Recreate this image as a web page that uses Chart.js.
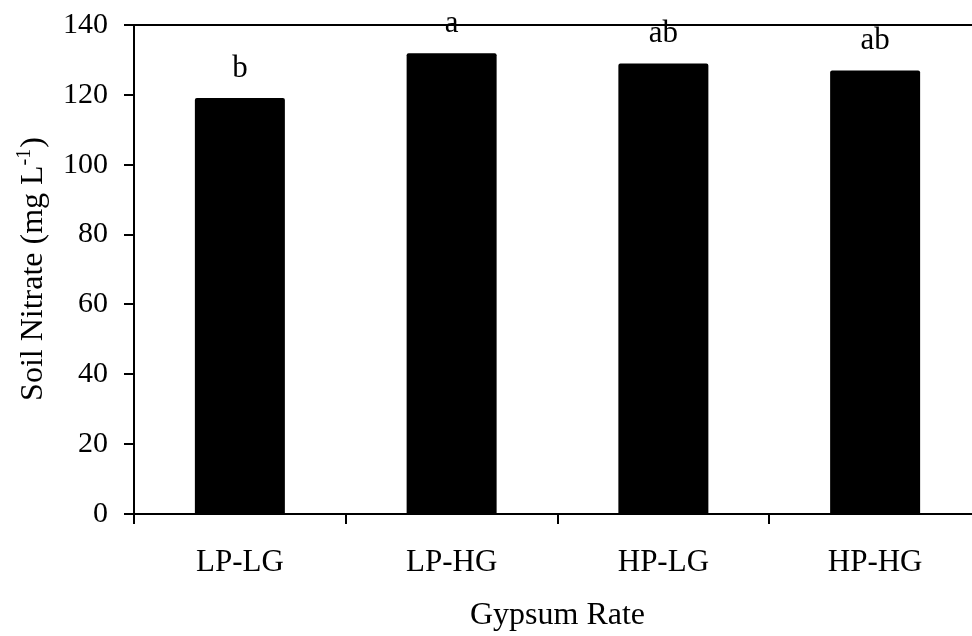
<!DOCTYPE html>
<html>
<head>
<meta charset="utf-8">
<script src="https://cdn.jsdelivr.net/npm/chart.js@4/dist/chart.umd.min.js"></script>
<style>
  html, body { margin: 0; padding: 0; background: #fff; overflow: hidden; }
  #wrap { width: 972px; height: 636px; overflow: hidden; }
</style>
</head>
<body>
<div id="wrap">
  <canvas id="nitrateChart" width="985" height="636"></canvas>
</div>
<script>
const categories = ['LP-LG', 'LP-HG', 'HP-LG', 'HP-HG'];
const soilNitrate = [119.1, 131.9, 129.0, 127.0];
const groupLetters = ['b', 'a', 'ab', 'ab'];
const yMin = 0;
const yMax = 140;
const yStep = 20;

const serif = "'Liberation Serif', 'Times New Roman', serif";

// letters over each bar + the top frame line
const extras = {
  id: 'extras',
  afterDatasetsDraw(chart) {
    const ctx = chart.ctx;
    const meta = chart.getDatasetMeta(0);
    ctx.save();
    ctx.fillStyle = '#000';
    ctx.font = '31px ' + serif;
    ctx.textAlign = 'center';
    ctx.textBaseline = 'alphabetic';
    meta.data.forEach((bar, i) => {
      ctx.fillText(groupLetters[i], bar.x, bar.y - 21);
    });
    ctx.restore();
  },
  afterDraw(chart) {
    const ctx = chart.ctx;
    const area = chart.chartArea;
    ctx.save();
    ctx.strokeStyle = '#000';
    ctx.lineWidth = 2;
    ctx.beginPath();
    ctx.moveTo(area.left - 1, area.top);
    ctx.lineTo(area.right, area.top);
    ctx.stroke();

    // y axis title with superscript
    const cy = (area.top + area.bottom) / 2;
    ctx.translate(42, cy);
    ctx.rotate(-Math.PI / 2);
    ctx.fillStyle = '#000';
    ctx.textBaseline = 'alphabetic';
    ctx.textAlign = 'left';
    const main = 'Soil Nitrate (mg L';
    const sup = '-1';
    const close = ')';
    ctx.font = '32px ' + serif;
    const w1 = ctx.measureText(main).width;
    const w3 = ctx.measureText(close).width;
    ctx.font = '20px ' + serif;
    const w2 = ctx.measureText(sup).width;
    let x = -(w1 + w2 + w3) / 2;
    ctx.font = '32px ' + serif;
    ctx.fillText(main, x, 0);
    x += w1;
    ctx.font = '20px ' + serif;
    ctx.fillText(sup, x, -12);
    x += w2 + 1;
    ctx.font = '32px ' + serif;
    ctx.fillText(close, x, 0);
    ctx.restore();
  }
};

new Chart(document.getElementById('nitrateChart'), {
  type: 'bar',
  data: {
    labels: categories,
    datasets: [{
      label: 'Soil Nitrate',
      data: soilNitrate,
      backgroundColor: '#000',
      borderWidth: 0,
      borderRadius: 2,
      borderSkipped: 'bottom',
      barPercentage: 0.425,
      categoryPercentage: 1
    }]
  },
  options: {
    responsive: false,
    animation: false,
    layout: { padding: { top: 25, right: 4, left: 0, bottom: 0 } },
    plugins: {
      legend: { display: false },
      tooltip: { enabled: false }
    },
    scales: {
      x: {
        grid: {
          offset: true,
          drawOnChartArea: false,
          drawTicks: true,
          tickLength: 10,
          color: '#000',
          lineWidth: 2
        },
        border: { display: true, color: '#000', width: 2 },
        ticks: {
          color: '#000',
          font: { family: serif, size: 31 },
          padding: 20
        },
        title: {
          display: true,
          text: 'Gypsum Rate',
          color: '#000',
          font: { family: serif, size: 32 },
          padding: { top: 0, bottom: 1 }
        },
        afterFit(scale) {
          scale.height = 122;
          scale.paddingLeft = 0;
          scale.paddingRight = 0;
        }
      },
      y: {
        min: yMin,
        max: yMax,
        grid: {
          drawOnChartArea: false,
          drawTicks: true,
          tickLength: 10,
          color: '#000',
          lineWidth: 2
        },
        border: { display: true, color: '#000', width: 2 },
        ticks: {
          stepSize: yStep,
          color: '#000',
          font: { family: serif, size: 30 },
          padding: 16
        },
        afterFit(scale) {
          scale.width = 134;
          scale.paddingTop = 0;
          scale.paddingBottom = 0;
        }
      }
    }
  },
  plugins: [extras]
});
</script>
</body>
</html>
